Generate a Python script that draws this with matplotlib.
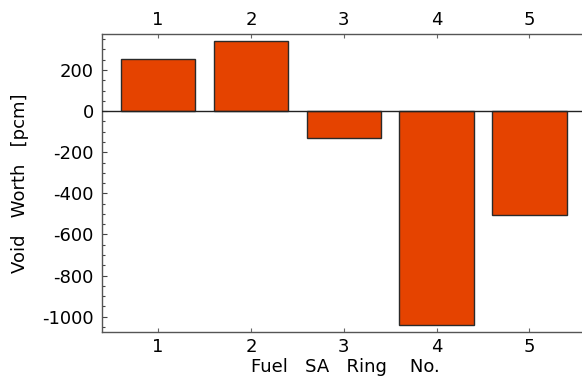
import numpy as np
import matplotlib
matplotlib.use("Agg")
import matplotlib.pyplot as plt
from matplotlib.ticker import MultipleLocator

# 各燃料组件环的空泡价值 (pcm)
rings = [1, 2, 3, 4, 5]
void_worth = [254, 342, -131, -1039, -504]

plt.rcParams['font.family'] = 'DejaVu Sans'
plt.rcParams['font.size'] = 13
plt.rcParams['axes.unicode_minus'] = False
plt.rcParams['xtick.direction'] = 'in'
plt.rcParams['ytick.direction'] = 'in'

fig = plt.figure(figsize=(5.82, 3.76), dpi=100)
ax = fig.add_axes([0.1758, 0.117, 0.836, 0.7918])

ax.bar(rings, void_worth, width=0.8, color='#E54300', edgecolor='#2a2a2a', linewidth=1.0, zorder=2)
ax.axhline(0, color='#222222', lw=1.0, zorder=3)

ax.set_xlim(0.4, 5.64)
ax.set_ylim(-1075, 374)
ax.set_xticks(rings)
ax.yaxis.set_major_locator(MultipleLocator(200))
ax.yaxis.set_minor_locator(MultipleLocator(50))

ax.tick_params(axis='x', which='major', top=True, labeltop=True, bottom=True,
               length=3, width=0.8, color='#666666', pad=4)
ax.tick_params(axis='y', which='major', left=True, right=True, length=3.5,
               width=0.8, color='#444444', pad=6)
ax.tick_params(axis='y', which='minor', left=True, right=True, length=2,
               width=0.8, color='#444444')
for s in ax.spines.values():
    s.set_color('#555555')
    s.set_linewidth(1.0)

ax.set_xlabel('Fuel   SA   Ring    No.', labelpad=2)
ax.set_ylabel('Void   Worth   [pcm]', labelpad=9.5)

fig.savefig('out.png', dpi=100)
